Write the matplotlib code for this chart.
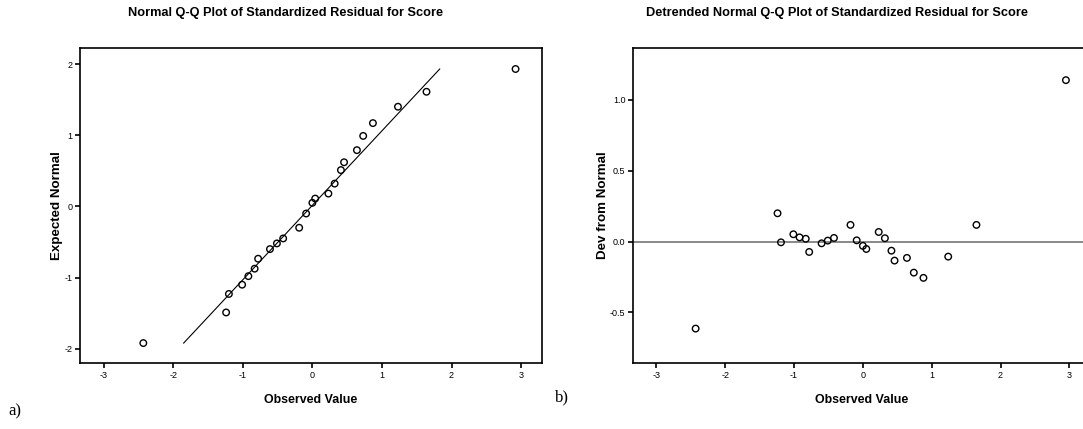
import matplotlib
matplotlib.use("Agg")
import matplotlib.pyplot as plt

# --- data ---
# a) normal Q-Q: observed value vs expected normal
qq_observed = [-2.43, -1.24, -1.20, -1.01, -0.92, -0.83, -0.78, -0.61, -0.51, -0.42,
               -0.19, -0.09, 0.00, 0.04, 0.23, 0.32, 0.41, 0.455, 0.64, 0.73,
               0.87, 1.23, 1.64, 2.92]
qq_expected = [-1.92, -1.49, -1.23, -1.10, -0.98, -0.875, -0.735, -0.60, -0.52, -0.45,
               -0.30, -0.10, 0.05, 0.11, 0.18, 0.32, 0.51, 0.62, 0.79, 0.99,
               1.17, 1.40, 1.61, 1.93]
ref_line_x = [-1.85, 1.83]
ref_line_y = [-1.92, 1.93]

# b) detrended Q-Q: observed value vs deviation from normal
dt_observed = [-2.43, -1.24, -1.19, -1.01, -0.92, -0.83, -0.78, -0.60, -0.51, -0.42,
               -0.18, -0.09, 0.00, 0.05, 0.23, 0.32, 0.415, 0.46, 0.64, 0.74,
               0.88, 1.24, 1.65, 2.95]
dt_deviation = [-0.614, 0.20, -0.005, 0.052, 0.03, 0.02, -0.073, -0.012, 0.007, 0.026,
                0.118, 0.009, -0.03, -0.052, 0.068, 0.024, -0.064, -0.134, -0.115, -0.219,
                -0.256, -0.106, 0.118, 1.14]

x_ticks = [-3, -2, -1, 0, 1, 2, 3]
qq_yticks = [-2, -1, 0, 1, 2]
dt_yticks = [-0.5, 0.0, 0.5, 1.0]
dt_ylabels = ["-0.5", "0.0", "0.5", "1.0"]

plt.rcParams["font.family"] = ["Liberation Sans", "DejaVu Sans"]

W, H = 1083, 429
fig = plt.figure(figsize=(W / 100, H / 100), dpi=100)


def px_axes(x0, x1, y0, y1):
    return fig.add_axes([x0 / W, 1 - y1 / H, (x1 - x0) / W, (y1 - y0) / H])


def style(ax, ylabel, ylab_dx):
    for side in ("top", "right", "left", "bottom"):
        ax.spines[side].set_linewidth(1.2)
    ax.tick_params(direction="out", length=3.5, width=1.2, labelsize=6.5, pad=2,
                   top=False, right=False)
    ax.set_xticks(x_ticks)
    ax.set_xticklabels([str(t) for t in x_ticks])
    ax.set_xlabel("Observed Value", fontsize=8.9, fontweight="bold", va="center")
    ax.xaxis.set_label_coords(0.5, -37 / 315)
    ax.set_ylabel(ylabel, fontsize=9.6, fontweight="bold", va="center")
    ax.yaxis.set_label_coords(ylab_dx, 0.5)


# --- a) ---
ax1 = px_axes(80, 542, 48, 363)
ax1.plot(ref_line_x, ref_line_y, color="black", lw=0.8)
ax1.scatter(qq_observed, qq_expected, s=22, facecolors="none", edgecolors="black",
            linewidths=1.0, zorder=3)
ax1.set_xlim(-3.34, 3.3)
ax1.set_ylim(-2.2, 2.225)
ax1.set_yticks(qq_yticks)
ax1.set_yticklabels([str(t) for t in qq_yticks])
style(ax1, "Expected Normal", -23 / 462)
fig.text(286 / W, 1 - 13 / H, "Normal Q-Q Plot of Standardized Residual for Score",
         ha="center", va="center", fontsize=9.2, fontweight="bold")

# --- b) ---
ax2 = px_axes(633, 1090, 48, 363)
ax2.axhline(0, color="#808080", lw=1.3, zorder=1)
ax2.scatter(dt_observed, dt_deviation, s=22, facecolors="none", edgecolors="black",
            linewidths=1.0, zorder=3)
ax2.set_xlim(-3.34, 3.3)
ax2.set_ylim(-0.857, 1.367)
ax2.set_yticks(dt_yticks)
ax2.set_yticklabels(dt_ylabels)
style(ax2, "Dev from Normal", -30 / 457)
fig.text(837 / W, 1 - 13 / H, "Detrended Normal Q-Q Plot of Standardized Residual for Score",
         ha="center", va="center", fontsize=9.2, fontweight="bold")

# panel letters
fig.text(8 / W, 1 - 411 / H, "a)", family=["Liberation Serif"], fontsize=12,
         ha="left", va="center")
fig.text(555 / W, 1 - 397 / H, "b)", family=["Liberation Serif"], fontsize=12,
         ha="left", va="center")

fig.savefig("out.png", dpi=100)
